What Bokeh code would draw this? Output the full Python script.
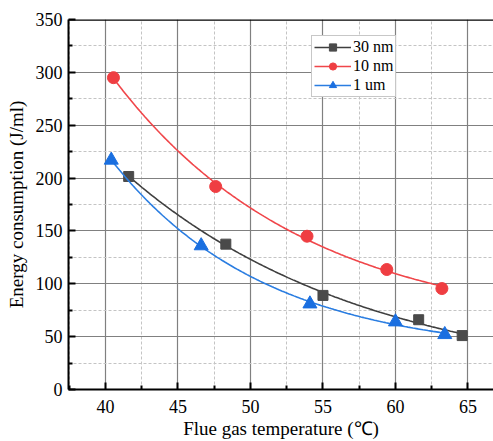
import numpy as np
from bokeh.plotting import figure
from bokeh.models import Legend, LegendItem, Span, Range1d, FixedTicker
from bokeh.embed import file_html
from bokeh.resources import INLINE

# data
x_30nm = [41.6, 48.3, 55.0, 61.6, 64.6]
y_30nm = [201.5, 137.5, 89.0, 66.0, 51.0]
x_10nm = [40.55, 47.6, 53.9, 59.4, 63.2]
y_10nm = [295.0, 192.0, 145.0, 113.5, 95.5]
x_1um = [40.4, 46.6, 54.1, 60.0, 63.4]
y_1um = [217.0, 136.0, 81.0, 64.0, 52.0]

x_ticks = [40, 45, 50, 55, 60, 65]
y_ticks = [0, 50, 100, 150, 200, 250, 300, 350]

FONT = "'Liberation Serif', 'Times New Roman', serif"

p = figure(width=493, height=441, output_backend="svg", toolbar_location=None,
           x_range=Range1d(37.45, 66.76), y_range=Range1d(0, 350),
           min_border_left=68, min_border_right=0, min_border_top=19, min_border_bottom=52)
p.outline_line_color = None
p.background_fill_color = "white"
p.border_fill_color = "white"


def fit_curve(xs, ys):
    # least squares exponential decay y = y0 + A*exp(-x/t), t by search
    xs = np.asarray(xs); ys = np.asarray(ys)
    best = None
    for t in np.linspace(3, 60, 600):
        M = np.vstack([np.ones_like(xs), np.exp(-xs / t)]).T
        coef, res, *_ = np.linalg.lstsq(M, ys, rcond=None)
        err = np.sum((M @ coef - ys) ** 2)
        if best is None or err < best[0]:
            best = (err, t, coef)
    _, t, coef = best
    xx = np.linspace(xs.min(), xs.max(), 200)
    return xx, coef[0] + coef[1] * np.exp(-xx / t)


series = [
    ("30 nm", x_30nm, y_30nm, "#3f3f3f", "#4a4a4a", "square", 10),
    ("10 nm", x_10nm, y_10nm, "#f0464a", "#ef3e42", "circle", 12),
    ("1 um", x_1um, y_1um, "#2a7de1", "#1a6fe0", "triangle", 14),
]

items = []
for name, xs, ys, lc, mc, mk, sz in series:
    fx, fy = fit_curve(xs, ys)
    lr = p.line(fx, fy, line_color=lc, line_width=1.6)
    sr = p.scatter(xs, ys, marker=mk, size=sz, fill_color=mc, line_color=mc)
    items.append(LegendItem(label=name, renderers=[lr, sr]))

legend = Legend(items=items, location=(243, 292))
legend.label_text_font = FONT
legend.label_text_font_size = "16px"
legend.label_text_color = "black"
legend.glyph_width = 37
legend.glyph_height = 18
legend.spacing = 1
legend.padding = 2
legend.margin = 0
legend.label_standoff = 2
legend.border_line_color = "#909090"
legend.border_line_width = 1.5
legend.background_fill_alpha = 1
p.add_layout(legend, "center")

# top border
p.add_layout(Span(location=350, dimension="width", line_color="black", line_width=2.5))

for ax in (p.xaxis[0], p.yaxis[0]):
    ax.axis_line_width = 2
    ax.axis_line_color = "black"
    ax.major_tick_line_width = 2
    ax.minor_tick_line_width = 2
    ax.major_tick_out = 0
    ax.major_tick_in = 7
    ax.minor_tick_out = 0
    ax.minor_tick_in = 4
    ax.major_label_text_font = FONT
    ax.major_label_text_font_size = "18px"
    ax.major_label_text_color = "black"
    ax.axis_label_text_font = FONT
    ax.axis_label_text_font_size = "19px"
    ax.axis_label_text_font_style = "normal"
    ax.axis_label_text_color = "black"

p.xaxis[0].major_label_standoff = 10
p.xaxis[0].axis_label_standoff = 2
p.yaxis[0].major_label_standoff = 6
p.yaxis[0].axis_label_standoff = 6

p.xaxis[0].ticker = FixedTicker(ticks=x_ticks, minor_ticks=[37.5 + 5 * i for i in range(7)])
p.yaxis[0].ticker = FixedTicker(ticks=y_ticks, minor_ticks=[25 + 50 * i for i in range(7)])
p.xaxis.axis_label = "Flue gas temperature (℃)"
p.yaxis.axis_label = "Energy consumption (J/ml)"

for g in (p.xgrid[0], p.ygrid[0]):
    g.grid_line_color = "#808080"
    g.grid_line_width = 1.2
    g.minor_grid_line_color = "#c4c4c4"
    g.minor_grid_line_dash = "3 2"
    g.minor_grid_line_width = 1

open("out.html", "w").write(file_html(p, INLINE))
